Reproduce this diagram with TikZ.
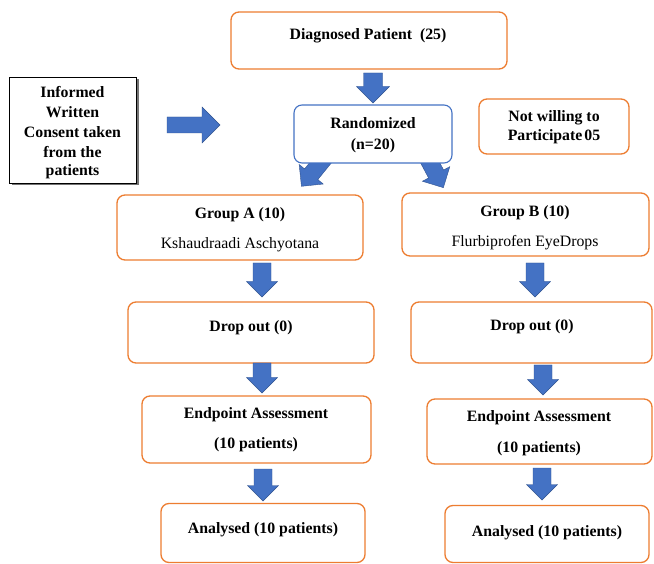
\documentclass[tikz,border=0pt]{standalone}
\usepackage{fontspec}
\setmainfont{Liberation Serif}
\definecolor{boxorange}{HTML}{ED7D31}
\definecolor{arrblue}{HTML}{4472C4}
\definecolor{arredge}{HTML}{2F528F}
\definecolor{randblue}{HTML}{4472C4}
\tikzset{
  obox/.style={draw=boxorange, line width=1.3pt, rounded corners=8pt, fill=white},
  bbox/.style={draw=randblue, line width=1.1pt, rounded corners=8pt, fill=white},
  kbox/.style={draw=black, line width=0.9pt, fill=white},
  txt/.style={font=\fontsize{15.8}{18}\selectfont\bfseries, inner sep=0pt},
  rtxt/.style={font=\fontsize{15.8}{18}\selectfont, inner sep=0pt},
  arrfill/.style={fill=arrblue, draw=arredge, line width=0.4pt},
}
\newcommand{\blkarr}[6]{%
  \begin{scope}[shift={(#1,#2)},rotate=#3]
    \filldraw[arrfill] (0,-#6/2) -- (#4-#5/2,-#6/2) -- (#4-#5/2,-#5/2) -- (#4,0)
      -- (#4-#5/2,#5/2) -- (#4-#5/2,#6/2) -- (0,#6/2) -- cycle;
  \end{scope}}
\begin{document}
\begin{tikzpicture}[x=1pt,y=-1pt]
\useasboundingbox[fill=white] (0,0) rectangle (654,564);
% diagonal arrows (behind the Randomized box)
\blkarr{326}{156}{-129}{39}{31}{17}
\blkarr{426}{155}{-62}{37}{31}{17}
% boxes
\node[obox, minimum width=276pt, minimum height=57pt] (diag) at (369,40.5) {};
\fill[black!55] (11.5,79.5) rectangle (138.5,185.5);
\node[kbox, minimum width=127pt, minimum height=106pt] (inf) at (72.5,130) {};
\node[bbox, minimum width=158pt, minimum height=58pt] (rand) at (373,134) {};
\node[obox, minimum width=150pt, minimum height=55pt] (notw) at (554,126.5) {};
\node[obox, minimum width=246pt, minimum height=65pt] (gA) at (240,227.5) {};
\node[obox, minimum width=247pt, minimum height=63pt] (gB) at (525.5,224.5) {};
\node[obox, minimum width=246pt, minimum height=61pt] (dA) at (251,332.5) {};
\node[obox, minimum width=241pt, minimum height=61pt] (dB) at (531.5,332.5) {};
\node[obox, minimum width=229pt, minimum height=67pt] (eA) at (256.5,429.5) {};
\node[obox, minimum width=225pt, minimum height=65pt] (eB) at (539.5,431.5) {};
\node[obox, minimum width=204pt, minimum height=59pt] (aA) at (263,533) {};
\node[obox, minimum width=204pt, minimum height=57pt] (aB) at (547,534) {};
% texts
\node[txt] (tdiag) at (368,36) {Diagnosed Patient\ \ (25)};
\node[txt] (ti1) at (72.5,92) {Informed};
\node[txt] (ti2) at (72.5,112) {Written};
\node[txt] (ti3) at (72.5,132) {Consent taken};
\node[txt] (ti4) at (72.5,152) {from the};
\node[txt] (ti5) at (72.5,172) {patients};
\node[txt] (tr1) at (373,123) {Randomized};
\node[txt] (tr2) at (373,146) {(n=20)};
\node[txt] (tn1) at (554,118) {Not willing to};
\node[txt] (tn2) at (554,137) {Participate\hspace{2pt}05};
\node[txt] (tga1) at (240,215) {Group A (10)};
\node[rtxt] (tga2) at (240,245) {Kshaudraadi Aschyotana};
\node[txt] (tgb1) at (525,213) {Group B (10)};
\node[rtxt] (tgb2) at (525,243) {Flurbiprofen EyeDrops};
\node[txt] (tda) at (251,328) {Drop out (0)};
\node[txt] (tdb) at (532,327) {Drop out (0)};
\node[txt] (tea1) at (256,415) {Endpoint Assessment};
\node[txt] (tea2) at (256,445) {(10 patients)};
\node[txt] (teb1) at (539,418) {Endpoint Assessment};
\node[txt] (teb2) at (539,449) {(10 patients)};
\node[txt] (taa) at (263,530) {Analysed (10 patients)};
\node[txt] (tab) at (547,533) {Analysed (10 patients)};
% block arrows
\blkarr{373}{73}{-90}{30}{33}{19}
\blkarr{167}{125}{0}{53}{36}{16}
\blkarr{262}{263}{-90}{34}{31}{18}
\blkarr{535}{263}{-90}{34}{31}{18}
\blkarr{262}{363}{-90}{30}{31}{18}
\blkarr{543}{365}{-90}{30}{31}{18}
\blkarr{263}{469}{-90}{32}{31}{18}
\blkarr{542}{468}{-90}{32}{31}{18}
\end{tikzpicture}
\end{document}
